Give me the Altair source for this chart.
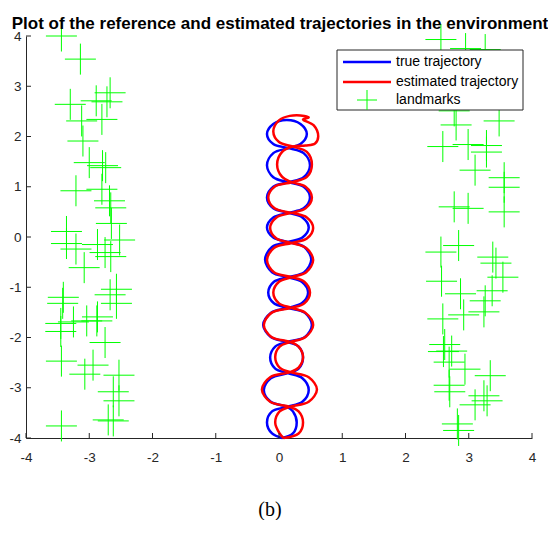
import altair as alt
import pandas as pd

# ---------------- data ----------------
tick_vals = [-4, -3, -2, -1, 0, 1, 2, 3, 4]

landmarks_left = [
    (-3.44, 4.00), (-3.14, 3.54), (-3.30, 2.64), (-2.67, 2.87), (-2.89, 2.71),
    (-2.72, 2.69), (-2.80, 2.34), (-3.12, 2.31), (-3.10, 1.91), (-3.00, 1.48),
    (-2.74, 1.38), (-2.79, 1.42), (-3.21, 0.92), (-2.80, 0.95), (-2.68, 0.72),
    (-2.66, 0.58), (-3.36, 0.11), (-2.65, 0.27), (-3.36, -0.13), (-3.21, -0.24),
    (-2.87, -0.15), (-2.75, -0.31), (-2.66, -0.39), (-2.52, -0.06), (-3.08, -0.61),
    (-3.41, -1.20), (-3.42, -1.32), (-2.57, -1.04), (-2.67, -1.15), (-2.57, -1.32),
    (-3.04, -1.67), (-2.88, -1.67), (-3.25, -1.69), (-3.45, -1.72), (-3.45, -1.88),
    (-2.87, -1.59), (-2.75, -2.10), (-3.44, -2.47), (-2.94, -2.55), (-3.07, -2.73),
    (-2.53, -2.75), (-2.62, -3.08), (-2.53, -3.26), (-2.70, -3.64), (-2.62, -3.66),
    (-3.44, -3.76),
]

landmarks_right = [
    (2.56, 3.93), (2.95, 3.75), (3.26, 3.73), (2.77, 2.51), (2.80, 2.23),
    (3.48, 2.31), (2.59, 1.80), (2.99, 1.84), (3.28, 1.82), (3.10, 1.33),
    (3.28, 1.69), (3.56, 1.18), (3.56, 0.99), (3.56, 0.50), (2.77, 0.60),
    (2.99, 0.57), (2.84, -0.17), (2.56, -0.30), (3.38, -0.40), (3.43, -0.52),
    (3.54, -0.80), (2.57, -0.88), (3.37, -1.07), (2.87, -1.13), (3.26, -1.27),
    (3.24, -1.49), (2.92, -1.55), (2.59, -1.63), (2.62, -2.14), (2.60, -2.28),
    (2.73, -2.27), (2.69, -2.49), (2.94, -2.63), (3.34, -2.76), (2.70, -3.08),
    (2.69, -2.95), (3.24, -3.16), (3.29, -3.26), (3.10, -3.34), (2.82, -3.72),
    (2.84, -3.85),
]

true_traj = [
    (0.05, -4.00), (0.22, -3.91), (0.28, -3.69), (0.22, -3.47),
    (0.13, -3.38), (-0.13, -3.28), (-0.24, -3.045), (-0.13, -2.81),
    (0.14, -2.71), (0.31, -2.62), (0.38, -2.40), (0.31, -2.18),
    (0.13, -2.09), (-0.13, -1.99), (-0.25, -1.75), (-0.13, -1.51),
    (0.14, -1.41), (0.36, -1.32), (0.46, -1.105), (0.36, -0.89),
    (0.14, -0.80), (-0.11, -0.70), (-0.22, -0.45), (-0.11, -0.20),
    (0.14, -0.10), (0.37, -0.01), (0.47, 0.19), (0.37, 0.39),
    (0.15, 0.48), (-0.09, 0.57), (-0.19, 0.785), (-0.09, 1.00),
    (0.15, 1.09), (0.39, 1.19), (0.49, 1.43), (0.39, 1.67),
    (0.15, 1.77), (-0.09, 1.85), (-0.19, 2.05), (-0.09, 2.25),
    (0.12, 2.33),
    (0.34, 2.25), (0.44, 2.05), (0.34, 1.85),
    (0.15, 1.77), (-0.09, 1.67), (-0.19, 1.43), (-0.09, 1.19),
    (0.15, 1.09), (0.39, 1.00), (0.49, 0.785), (0.39, 0.57),
    (0.15, 0.48), (-0.09, 0.39), (-0.19, 0.19), (-0.09, -0.01),
    (0.14, -0.10), (0.40, -0.20), (0.51, -0.45), (0.40, -0.70),
    (0.14, -0.80), (-0.08, -0.89), (-0.17, -1.105), (-0.08, -1.32),
    (0.14, -1.41), (0.41, -1.51), (0.52, -1.75), (0.41, -1.99),
    (0.13, -2.09), (-0.06, -2.18), (-0.14, -2.40), (-0.06, -2.62),
    (0.14, -2.71), (0.37, -2.81), (0.47, -3.045), (0.37, -3.28),
    (0.13, -3.38), (-0.11, -3.47), (-0.19, -3.69), (-0.11, -3.91),
    (0.05, -4.00),
]

est_traj = [
    (0.07, -4.00), (0.31, -3.91), (0.38, -3.69), (0.31, -3.47),
    (0.17, -3.38), (-0.14, -3.28), (-0.27, -3.035), (-0.14, -2.79),
    (0.18, -2.69), (0.31, -2.60), (0.38, -2.39), (0.31, -2.18),
    (0.18, -2.09), (-0.12, -1.99), (-0.24, -1.75), (-0.12, -1.51),
    (0.20, -1.41), (0.40, -1.32), (0.49, -1.105), (0.40, -0.89),
    (0.20, -0.80), (-0.08, -0.70), (-0.19, -0.46), (-0.08, -0.22),
    (0.20, -0.12), (0.44, -0.03), (0.54, 0.18), (0.44, 0.39),
    (0.20, 0.48), (-0.07, 0.57), (-0.17, 0.785), (-0.07, 1.00),
    (0.20, 1.09), (0.44, 1.195), (0.52, 1.445), (0.44, 1.695),
    (0.22, 1.80), (0.00, 1.89), (-0.09, 2.10), (0.00, 2.32),
    (0.17, 2.41), (0.40, 2.41), (0.47, 2.38), (0.38, 2.34),
    (0.55, 2.22), (0.62, 2.00), (0.57, 1.86), (0.42, 1.82),
    (0.22, 1.80), (0.05, 1.695), (-0.03, 1.445), (0.05, 1.195),
    (0.20, 1.09), (0.42, 1.00), (0.52, 0.785), (0.42, 0.57),
    (0.20, 0.48), (-0.04, 0.39), (-0.14, 0.18), (-0.04, -0.03),
    (0.20, -0.12), (0.43, -0.22), (0.54, -0.46), (0.43, -0.70),
    (0.20, -0.80), (0.00, -0.89), (-0.09, -1.105), (0.00, -1.32),
    (0.20, -1.41), (0.42, -1.51), (0.54, -1.75), (0.42, -1.99),
    (0.18, -2.09), (0.01, -2.18), (-0.06, -2.39), (0.01, -2.60),
    (0.18, -2.69), (0.47, -2.79), (0.60, -3.035), (0.47, -3.28),
    (0.17, -3.38), (0.01, -3.47), (-0.06, -3.69), (0.01, -3.91),
    (0.07, -4.00),
]

legend_labels = ["true trajectory", "estimated trajectory", "landmarks"]
title_text = "Plot of the reference and estimated trajectories in the environment"
caption_text = "(b)"

# ---------------- chart ----------------
W, H = 506, 402
AX = "#262626"
CROSS = "M-1,0L1,0M0,-1L0,1"
FONT = "Liberation Sans"

lm = pd.DataFrame(landmarks_left + landmarks_right, columns=["x", "y"])
tr = pd.DataFrame(true_traj, columns=["x", "y"])
tr["i"] = range(len(tr))
es = pd.DataFrame(est_traj, columns=["x", "y"])
es["i"] = range(len(es))
xt_df = pd.DataFrame({"x": tick_vals})
yt_df = pd.DataFrame({"y": tick_vals})
one = pd.DataFrame({"a": [0]})

xs = alt.Scale(domain=[-4, 4], nice=False, zero=False)
ys = alt.Scale(domain=[-4, 4], nice=False, zero=False)
common_axis = dict(values=tick_vals, ticks=False, grid=False, domainColor=AX, domainWidth=1,
                   labelColor=AX, labelFont=FONT, labelFontSize=13.5, labelFlush=False,
                   labelOverlap=False, labelExpr="toString(datum.value)")
xaxis = alt.Axis(labelPadding=12, **common_axis)
yaxis = alt.Axis(labelPadding=5, **common_axis)

X = alt.X("x:Q", scale=xs, axis=xaxis, title="")
Y = alt.Y("y:Q", scale=ys, axis=yaxis, title="")

blue = alt.Chart(tr).mark_line(color="#0000ff", strokeWidth=2.5, interpolate="catmull-rom").encode(
    x=X, y=Y, order="i:Q")
red = alt.Chart(es).mark_line(color="#ff0000", strokeWidth=2.5, interpolate="catmull-rom").encode(
    x=alt.X("x:Q", title=""), y=alt.Y("y:Q", title=""), order="i:Q")
pts = alt.Chart(lm).mark_point(shape=CROSS, size=961, filled=False, color="#00ff00",
                               strokeWidth=1, opacity=1).encode(
    x=alt.X("x:Q", title=""), y=alt.Y("y:Q", title=""))

xticks = alt.Chart(xt_df).mark_rule(color=AX, strokeWidth=1).encode(
    x=alt.X("x:Q", title=""), y=alt.value(H), y2=alt.value(H - 5))
yticks = alt.Chart(yt_df).mark_rule(color=AX, strokeWidth=1).encode(
    y=alt.Y("y:Q", title=""), x=alt.value(0), x2=alt.value(5))

box = alt.Chart(one).mark_rect(fill="white", stroke=AX, strokeWidth=1).encode(
    x=alt.value(311), x2=alt.value(497), y=alt.value(14), y2=alt.value(74))
leg_blue = alt.Chart(one).mark_rule(color="#0000ff", strokeWidth=2.5).encode(
    x=alt.value(317), x2=alt.value(365), y=alt.value(26))
leg_red = alt.Chart(one).mark_rule(color="#ff0000", strokeWidth=2.5).encode(
    x=alt.value(317), x2=alt.value(365), y=alt.value(46))
leg_cross = alt.Chart(one).mark_point(shape=CROSS, size=400, filled=False, color="#00ff00",
                                      strokeWidth=1, opacity=1).encode(
    x=alt.value(341), y=alt.value(64))
leg_texts = [
    alt.Chart(one).mark_text(align="left", baseline="middle", font=FONT, fontSize=14,
                             color="black").encode(
        x=alt.value(370), y=alt.value(yy), text=alt.value(lbl))
    for lbl, yy in zip(legend_labels, [26, 46, 64])
]
title = alt.Chart(one).mark_text(align="center", baseline="alphabetic", font=FONT,
                                 fontSize=17, fontWeight="bold", color="black").encode(
    x=alt.value(254), y=alt.value(-7), text=alt.value(title_text))
caption = alt.Chart(one).mark_text(align="center", baseline="alphabetic",
                                   font="Liberation Serif", fontSize=20, color="black").encode(
    x=alt.value(244), y=alt.value(480), text=alt.value(caption_text))

chart = alt.layer(blue, red, pts, xticks, yticks, box, leg_blue, leg_red, leg_cross,
                  *leg_texts, title, caption).properties(
    width=W, height=H,
    padding={"left": 18, "top": 28, "right": 16, "bottom": 82},
    autosize=alt.AutoSizeParams(type="none"),
).configure_view(stroke=None)

chart.save("out.html", embed_options={"renderer": "svg", "actions": False})
